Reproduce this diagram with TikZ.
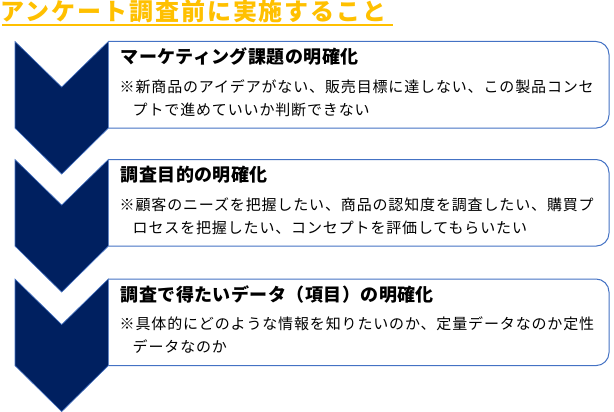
\documentclass[tikz,border=0pt]{standalone}
\usepackage{fontspec}
\newfontfamily\jp{Noto Sans CJK JP}
\definecolor{navy}{HTML}{002060}
\definecolor{boxline}{HTML}{4472C4}
\definecolor{gold}{HTML}{FFC000}
\begin{document}
\begin{tikzpicture}[x=1pt,y=-1pt,
  chev/.style={fill=navy,draw=boxline,line width=0.6pt,line join=miter},
  card/.style={fill=white,draw=boxline,line width=1pt,rounded corners=13pt},
  titletext/.style={anchor=base west,inner sep=0pt,text=gold,font=\jp\bfseries\fontsize{24}{28}\selectfont\addfontfeature{LetterSpace=8}},
  head/.style={anchor=base west,inner sep=0pt,text=black,font=\jp\bfseries\fontsize{18}{21}\selectfont\addfontfeature{LetterSpace=2.5}},
  body/.style={anchor=base west,inner sep=0pt,text=black,font=\jp\fontsize{15}{18}\selectfont\addfontfeature{LetterSpace=5.7}},
  ]
\useasboundingbox (0,0) rectangle (614,412);

% title
\node[titletext] (title) at (0.5,20.6) {アンケート調査前に実施すること};
\draw[gold,line width=1.5pt] (2,25) -- (393,25);

% ---- step 1 (top 41.5)
\draw[card] (108.3,41.5) -- (609,41.5) -- (609,128.1) -- (108.3,128.1);
\draw[chev] (15,41.5) -- (61.7,87.1) -- (108.3,41.5) -- (108.3,128.1) -- (61.7,174.1) -- (15,128.1) -- cycle;
\node[head] (h1) at (120.5,63.8) {マーケティング課題の明確化};
\node[body] (b1a) at (119.5,92.2) {※新商品のアイデアがない、販売目標に達しない、この製品コンセ};
\node[body] (b1b) at (132.5,115.2) {プトで進めていいか判断できない};

% ---- step 2 (top 159.5)
\draw[card] (108.3,159.5) -- (609,159.5) -- (609,246.1) -- (108.3,246.1);
\draw[chev] (15,159.5) -- (61.7,205.1) -- (108.3,159.5) -- (108.3,246.1) -- (61.7,292.1) -- (15,246.1) -- cycle;
\node[head] (h2) at (120.5,181.8) {調査目的の明確化};
\node[body] (b2a) at (119.5,210.2) {※顧客のニーズを把握したい、商品の認知度を調査したい、購買プ};
\node[body] (b2b) at (132.5,233.2) {ロセスを把握したい、コンセプトを評価してもらいたい};

% ---- step 3 (top 279)
\draw[card] (108.3,279) -- (609,279) -- (609,365.6) -- (108.3,365.6);
\draw[chev] (15,279) -- (61.7,324.6) -- (108.3,279) -- (108.3,365.6) -- (61.7,411.6) -- (15,365.6) -- cycle;
\node[head] (h3) at (120.5,301.3) {調査で得たいデータ（項目）の明確化};
\node[body] (b3a) at (119.5,329.7) {※具体的にどのような情報を知りたいのか、定量データなのか定性};
\node[body] (b3b) at (132.5,352.7) {データなのか};
\end{tikzpicture}
\end{document}
